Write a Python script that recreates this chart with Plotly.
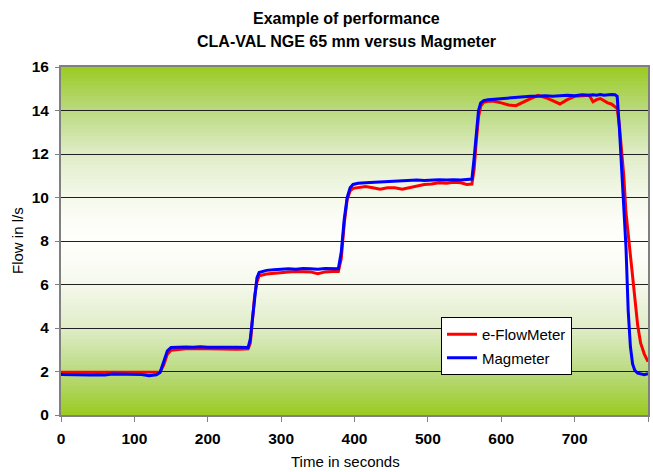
import plotly.graph_objects as go

# ---- data ----
time_s = [0, 10, 20, 30, 40, 50, 60, 70, 80, 90, 100, 110, 120, 130, 135, 140, 145, 150,
          160, 170, 180, 190, 200, 210, 220, 230, 240, 250, 255, 258, 261, 264, 267, 270,
          280, 290, 300, 310, 320, 330, 340, 350, 360, 370, 378, 382, 386, 390, 394, 398,
          405, 415, 425, 435, 445, 455, 465, 475, 485, 495, 505, 515, 525, 535, 545, 553,
          560, 563, 566, 569, 572, 576, 582, 590, 600, 610, 620, 630, 640, 650, 660, 670,
          680, 690, 700, 710, 720, 725, 730, 735, 740, 745, 750, 755, 758, 761, 764, 767,
          770, 773, 776, 779, 782, 786, 790, 795, 800]

e_flowmeter = [1.97, 1.97, 1.96, 1.98, 1.97, 1.97, 1.96, 1.98, 1.97, 1.98, 1.97, 1.98, 1.97, 1.96, 1.98, 2.3, 2.8, 2.98,
               3.02, 3.05, 3.06, 3.05, 3.06, 3.05, 3.04, 3.0, 3.02, 3.03, 3.04, 3.3, 4.5, 5.5, 6.1, 6.4,
               6.48, 6.52, 6.55, 6.58, 6.6, 6.6, 6.58, 6.5, 6.58, 6.6, 6.6, 7.2, 8.8, 9.9, 10.3, 10.42,
               10.45, 10.5, 10.45, 10.38, 10.45, 10.45, 10.38, 10.45, 10.55, 10.6, 10.62, 10.68, 10.65, 10.7, 10.68, 10.6,
               10.62, 11.3, 12.6, 13.7, 14.2, 14.38, 14.42, 14.42, 14.35, 14.25, 14.22, 14.4, 14.55, 14.7, 14.6, 14.45,
               14.3, 14.5, 14.65, 14.68, 14.7, 14.4, 14.5, 14.55, 14.45, 14.35, 14.3, 14.15, 14.1, 13.3, 12.3, 11.0,
               9.3, 8.3, 7.3, 6.2, 5.3, 4.1, 3.3, 2.8, 2.45]

magmeter = [1.86, 1.85, 1.84, 1.86, 1.84, 1.85, 1.84, 1.88, 1.87, 1.87, 1.86, 1.86, 1.80, 1.85, 1.95, 2.5, 2.95, 3.1,
            3.12, 3.13, 3.12, 3.14, 3.12, 3.13, 3.14, 3.12, 3.11, 3.1, 3.1, 3.5, 4.5, 5.6, 6.3, 6.55,
            6.65, 6.68, 6.70, 6.72, 6.70, 6.73, 6.72, 6.70, 6.73, 6.72, 6.72, 7.5, 9.0, 10.0, 10.45, 10.6,
            10.65, 10.68, 10.7, 10.72, 10.72, 10.75, 10.78, 10.77, 10.8, 10.78, 10.8, 10.82, 10.8, 10.82, 10.8, 10.82,
            10.85, 11.8, 13.0, 14.0, 14.35, 14.45, 14.5, 14.52, 14.55, 14.6, 14.62, 14.62, 14.65, 14.65, 14.68, 14.65,
            14.68, 14.7, 14.68, 14.72, 14.7, 14.72, 14.7, 14.73, 14.7, 14.72, 14.73, 14.72, 14.65, 13.2, 11.3, 9.6,
            7.7, 4.8, 3.15, 2.35, 2.05, 1.92, 1.88, 1.85, 1.9]

x_ticks = [0, 100, 200, 300, 400, 500, 600, 700, 800]
y_ticks = [0, 2, 4, 6, 8, 10, 12, 14, 16]

FONT = "Liberation Sans, Arial, sans-serif"

# plot area in pixels
L, R, T, B = 61, 648, 67, 415
W, H = 653, 472

fig = go.Figure()
fig.add_trace(go.Scatter(x=time_s, y=e_flowmeter, mode="lines", name="e-FlowMeter",
                         line=dict(color="#FF0000", width=3), legendgroup="a"))
fig.add_trace(go.Scatter(x=time_s, y=magmeter, mode="lines", name="Magmeter",
                         line=dict(color="#0000FF", width=3), legendgroup="b"))

# gradient background (green at edges, white in the middle)
stops = [(0.0, (254, 254, 250)), (0.12, (252, 253, 247)), (0.25, (244, 248, 234)),
         (0.5, (224, 237, 200)), (0.75, (186, 218, 128)), (1.0, (155, 203, 32))]

def grad(d):
    for (a, ca), (b, cb) in zip(stops[:-1], stops[1:]):
        if a <= d <= b:
            f = (d - a) / (b - a)
            return "rgb(%d,%d,%d)" % tuple(round(ca[i] + f * (cb[i] - ca[i])) for i in range(3))
    return "rgb(%d,%d,%d)" % stops[-1][1]

n = 96
shapes = []
for i in range(n):
    y0 = 16 * i / n
    y1 = min(16, 16 * (i + 1) / n + 0.12)  # slight overlap to avoid seams
    d = abs((16 * (i + 0.5) / n) - 8) / 8
    shapes.append(dict(type="rect", xref="x", yref="y", x0=0, x1=800, y0=y0, y1=y1,
                       fillcolor=grad(d), line=dict(width=0), layer="below"))

def px_x(p):
    return (p - L) / (R - L)

def px_y(p):
    return (B - p) / (B - T)

annotations = [
    dict(text="<b>Example of performance</b>", x=px_x(346), y=px_y(18), xref="paper", yref="paper",
         xanchor="center", yanchor="middle", showarrow=False, font=dict(size=16, family=FONT)),
    dict(text="<b>CLA-VAL NGE 65 mm versus Magmeter</b>", x=px_x(346), y=px_y(42), xref="paper", yref="paper",
         xanchor="center", yanchor="middle", showarrow=False, font=dict(size=16, family=FONT)),
    dict(text="Time in seconds", x=px_x(345), y=px_y(461), xref="paper", yref="paper",
         xanchor="center", yanchor="middle", showarrow=False, font=dict(size=15, family=FONT)),
    dict(text="Flow in l/s", x=px_x(17), y=px_y(241), xref="paper", yref="paper", textangle=-90,
         xanchor="center", yanchor="middle", showarrow=False, font=dict(size=15, family=FONT)),
]

fig.update_layout(
    width=W, height=H,
    margin=dict(l=L, r=W - R, t=T, b=H - B, autoexpand=False),
    paper_bgcolor="white", plot_bgcolor="white",
    font=dict(family=FONT, color="black", size=15),
    shapes=shapes,
    annotations=annotations,
    showlegend=True,
    legend=dict(x=px_x(441), y=px_y(317), xanchor="left", yanchor="top",
                bgcolor="white", bordercolor="black", borderwidth=1,
                font=dict(size=15, family=FONT), traceorder="grouped", tracegroupgap=1),
)
fig.update_xaxes(range=[0, 800], tickvals=x_ticks, ticks="outside", ticklen=5, tickcolor="#808080",
                 showgrid=False, zeroline=False, showline=True, linecolor="#808080", linewidth=2,
                 mirror=True, automargin=False, ticklabelstandoff=3,
                 tickfont=dict(size=15.5, family=FONT, weight="bold"))
fig.update_yaxes(range=[0, 16], tickvals=y_ticks, ticks="outside", ticklen=4, tickcolor="#808080",
                 showgrid=True, gridcolor="#202020", gridwidth=1, zeroline=False,
                 showline=True, linecolor="#808080", linewidth=2, mirror=True, automargin=False,
                 ticklabelstandoff=3, tickfont=dict(size=15.5, family=FONT, weight="bold"))

fig.write_html("out.html", config={"displayModeBar": False},
               post_script="document.body.style.margin='0';document.body.style.padding='0';")
